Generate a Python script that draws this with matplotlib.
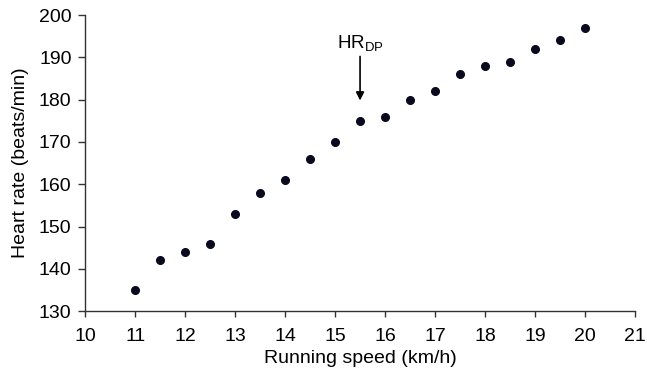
import matplotlib
matplotlib.use("Agg")
import matplotlib.pyplot as plt

speed = [11, 11.5, 12, 12.5, 13, 13.5, 14, 14.5, 15, 15.5,
         16, 16.5, 17, 17.5, 18, 18.5, 19, 19.5, 20]
heart_rate = [135, 142, 144, 146, 153, 158, 161, 166, 170, 175,
              176, 180, 182, 186, 188, 189, 192, 194, 197]
x_ticks = list(range(10, 22))
y_ticks = list(range(130, 201, 10))

plt.rcParams['font.family'] = ['Liberation Sans', 'DejaVu Sans']

fig = plt.figure(figsize=(6.47, 3.75), dpi=100)
ax = fig.add_axes([0.132, 0.17, 0.849, 0.79])

ax.plot(speed, heart_rate, 'o', color='#0a0a1e', markersize=5.5)

ax.set_xlim(10, 21)
ax.set_ylim(130, 200)
ax.set_xticks(x_ticks)
ax.set_yticks(y_ticks)
ax.tick_params(direction='out', width=1, labelsize=14, color='#333333')
ax.tick_params(axis='x', length=4, pad=8)
ax.tick_params(axis='y', length=5, pad=5)
for s in ['top', 'right']:
    ax.spines[s].set_visible(False)
for s in ['left', 'bottom']:
    ax.spines[s].set_color('#333333')
    ax.spines[s].set_linewidth(1)

ax.set_xlabel('Running speed (km/h)', fontsize=14, labelpad=4)
ax.set_ylabel('Heart rate (beats/min)', fontsize=14, labelpad=7)

ax.annotate('', xy=(15.5, 179.8), xytext=(15.5, 190.2),
            arrowprops=dict(arrowstyle='-|>', color='black', lw=1.2,
                            mutation_scale=12, shrinkA=0, shrinkB=0))
ax.text(15.5, 193.3, r'HR$_{\mathregular{DP}}$', ha='center', va='center', fontsize=13.5)

fig.savefig('out.png', dpi=100)
